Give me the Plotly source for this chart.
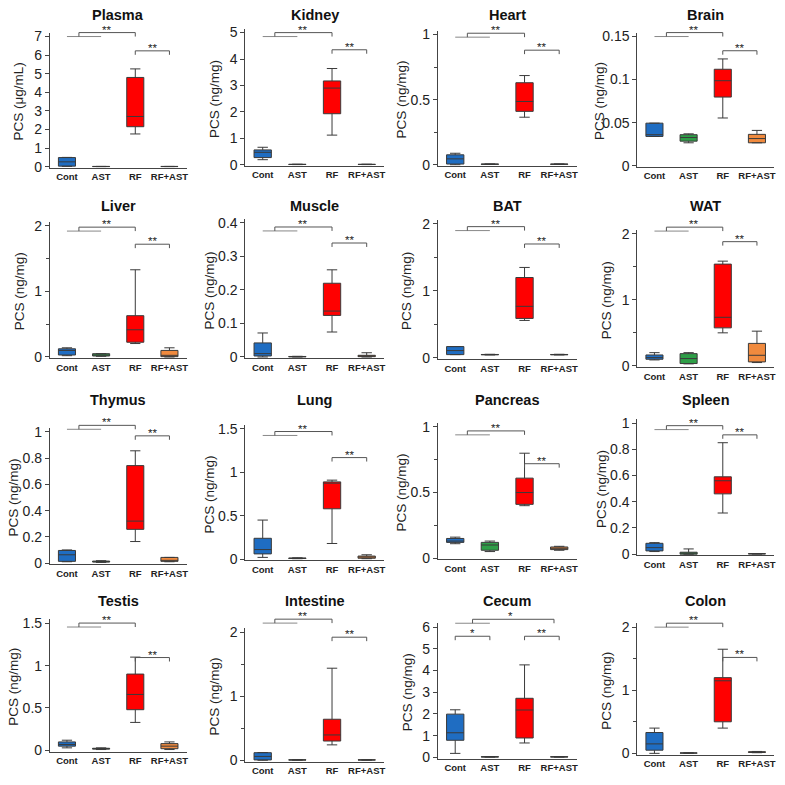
import plotly.graph_objects as go

groups = ["Cont", "AST", "RF", "RF+AST"]
organs = ["Plasma", "Kidney", "Heart", "Brain", "Liver", "Muscle", "BAT", "WAT",
          "Thymus", "Lung", "Pancreas", "Spleen", "Testis", "Intestine", "Cecum", "Colon"]
y_titles = ["PCS (μg/mL)"] + ["PCS (ng/mg)"] * 15
y_max = [7, 5, 1, 0.15, 2, 0.4, 2, 2, 1, 1.5, 1, 1, 1.5, 2, 6, 2]
y_dtick = [1, 1, 0.5, 0.05, 1, 0.1, 1, 1, 0.2, 0.5, 0.5, 0.2, 0.5, 1, 1, 1]
y_minor = [False, False, True, False, True, False, True, True,
           False, False, True, False, False, True, False, True]

# box statistics per organ: [Cont, AST, RF, RF+AST]
lower = [
    [0.02, 0.005, 1.76, 0.005], [0.19, 0.005, 1.12, 0.005], [0.0, 0.002, 0.365, 0.002],
    [0.034, 0.0266, 0.0554, 0.0266], [0.02, 0.01, 0.205, 0.0], [0.0, 0.0, 0.0745, 0.0],
    [0.05, 0.045, 0.56, 0.045], [0.09, 0.03, 0.5, 0.05], [0.01, 0.005, 0.164, 0.01],
    [0.02, 0.005, 0.18, 0.005], [0.11, 0.05, 0.4, 0.06], [0.02, 0.0, 0.314, 0.001],
    [0.03, 0.01, 0.33, 0.01], [0.0, 0.003, 0.24, 0.003], [0.18, 0.01, 0.66, 0.01],
    [0.0, 0.003, 0.4, 0.01]]
q1 = [
    [0.03, 0.005, 2.15, 0.005], [0.27, 0.008, 1.93, 0.008], [0.005, 0.003, 0.41, 0.003],
    [0.034, 0.0285, 0.0797, 0.0266], [0.03, 0.015, 0.225, 0.005], [0.003, 0.0005, 0.124, 0.001],
    [0.05, 0.048, 0.59, 0.048], [0.1, 0.035, 0.575, 0.06], [0.013, 0.008, 0.257, 0.013],
    [0.06, 0.007, 0.58, 0.01], [0.12, 0.06, 0.41, 0.065], [0.025, 0.0, 0.46, 0.002],
    [0.05, 0.015, 0.48, 0.02], [0.005, 0.004, 0.3, 0.004], [0.785, 0.015, 0.89, 0.015],
    [0.05, 0.004, 0.5, 0.015]]
median = [
    [0.26, 0.01, 2.7, 0.01], [0.47, 0.01, 2.9, 0.01], [0.045, 0.004, 0.486, 0.004],
    [0.036, 0.0327, 0.0987, 0.0315], [0.1, 0.03, 0.415, 0.025], [0.01, 0.001, 0.137, 0.003],
    [0.11, 0.05, 0.77, 0.05], [0.125, 0.11, 0.735, 0.16], [0.063, 0.01, 0.32, 0.02],
    [0.11, 0.01, 0.875, 0.025], [0.13, 0.1, 0.5, 0.075], [0.05, 0.008, 0.56, 0.003],
    [0.07, 0.02, 0.66, 0.05], [0.06, 0.005, 0.395, 0.005], [1.13, 0.02, 2.18, 0.02],
    [0.15, 0.005, 1.15, 0.02]]
q3 = [
    [0.49, 0.015, 4.8, 0.015], [0.56, 0.015, 3.17, 0.015], [0.076, 0.005, 0.63, 0.005],
    [0.0494, 0.036, 0.112, 0.0364], [0.125, 0.05, 0.63, 0.1], [0.042, 0.0015, 0.22, 0.005],
    [0.17, 0.052, 1.2, 0.052], [0.165, 0.185, 1.54, 0.34], [0.096, 0.015, 0.743, 0.043],
    [0.24, 0.012, 0.89, 0.035], [0.15, 0.12, 0.61, 0.085], [0.083, 0.015, 0.59, 0.004],
    [0.1, 0.025, 0.9, 0.08], [0.118, 0.006, 0.64, 0.006], [1.99, 0.025, 2.72, 0.025],
    [0.33, 0.006, 1.2, 0.025]]
upper = [
    [0.5, 0.015, 5.26, 0.015], [0.66, 0.02, 3.64, 0.02], [0.088, 0.006, 0.685, 0.006],
    [0.0494, 0.037, 0.124, 0.041], [0.14, 0.05, 1.33, 0.14], [0.0716, 0.002, 0.26, 0.0127],
    [0.17, 0.055, 1.35, 0.055], [0.2, 0.2, 1.585, 0.525], [0.1, 0.018, 0.856, 0.043],
    [0.45, 0.015, 0.91, 0.05], [0.16, 0.13, 0.8, 0.09], [0.088, 0.04, 0.85, 0.005],
    [0.12, 0.03, 1.1, 0.1], [0.12, 0.007, 1.436, 0.007], [2.19, 0.03, 4.26, 0.03],
    [0.4, 0.007, 1.65, 0.03]]

# ---------------- layout / style ----------------
W = H = 785
fills = ["#1f6dc2", "#2e9e47", "#ff0000", "#f08a3e"]
edge = "#3a3a3a"
col_x = [(50, 187), (246, 385), (439, 578), (639, 776)]
zero_top = [(165, 33), (163, 29), (163, 31), (164, 33),
            (358, 225), (358, 222), (359, 223), (367, 233),
            (567, 434), (563, 431), (562, 429), (558, 425),
            (757, 628), (767, 637), (764, 632), (760, 632)]
title_y = [11, 205, 402, 605]
# significance bracket levels (fraction of top tick)
b1 = [1.0, 0.97, 0.98, 1.0, 0.96, 0.94, 0.95, 1.02, 1.02, 0.95, 0.94, 0.95, 0.97, 1.07, 1.03, 1.0]
b2 = [0.89, 0.87, 0.88, 0.89, 0.86, 0.85, 0.85, 0.94, 0.97, 0.78, 0.72, 0.91, 0.73, 0.96, 0.93, 0.76]


def fx(p):
    return p / W


def fy(p):
    return 1 - p / H


fig = go.Figure()
shapes, annos = [], []


def px_x(i, c):
    x0, x1 = col_x[i % 4]
    return fx(x0 + (c + 0.5) / 4 * (x1 - x0))


def px_y(i, frac, up=0):
    z, t = zero_top[i]
    return fy(z - frac * (z - t) - up)


def line(x0, y0, x1, y1, color="#555"):
    shapes.append(dict(type="line", xref="paper", yref="paper", x0=x0, y0=y0, x1=x1, y1=y1,
                       line=dict(color=color, width=1)))


def stars(x, y, txt):
    annos.append(dict(x=x, y=y, xref="paper", yref="paper", text=txt, showarrow=False,
                      xanchor="center", yanchor="bottom", yshift=-5,
                      font=dict(size=11.5, color="#222", family="Liberation Sans")))


for i, organ in enumerate(organs):
    n = i + 1
    xa, ya = f"x{n}", f"y{n}"
    for g in range(4):
        fig.add_trace(go.Box(
            x=[groups[g]], q1=[q1[i][g]], median=[median[i][g]], q3=[q3[i][g]],
            lowerfence=[lower[i][g]], upperfence=[upper[i][g]],
            fillcolor=fills[g], line=dict(color=edge, width=1), width=0.5,
            whiskerwidth=0.6, boxpoints=False, showlegend=False,
            xaxis=xa, yaxis=ya))
    x0, x1 = col_x[i % 4]
    z, t = zero_top[i]
    h = z - t
    top = y_max[i]
    ydom = [fy(z + 0.01 * h), fy(t - 0.03 * h)]
    fig.layout[f"xaxis{n}"] = dict(
        domain=[fx(x0), fx(x1)], anchor=ya, type="category",
        categoryorder="array", categoryarray=groups, range=[-0.5, 3.5],
        showline=True, linecolor="#444", linewidth=1, showgrid=False, zeroline=False,
        ticks="", ticklen=0, ticklabeloverflow="allow",
        tickfont=dict(size=9.5, family="Liberation Sans", weight="bold", color="#222"))
    yax = dict(
        domain=ydom, anchor=xa, range=[-0.01 * top, 1.03 * top],
        tick0=0, dtick=y_dtick[i], showline=True, linecolor="#444", linewidth=1,
        showgrid=False, zeroline=False, ticks="outside", ticklen=4, tickcolor="#444",
        tickfont=dict(size=14, family="Liberation Sans", color="#222"))
    if y_minor[i]:
        yax["minor"] = dict(dtick=y_dtick[i] / 2, tick0=0, ticks="outside", ticklen=3,
                            tickcolor="#444", showgrid=False)
    fig.layout[f"yaxis{n}"] = yax

    # panel title
    annos.append(dict(x=fx((x0 + x1) / 2), y=fy(title_y[i // 4]), xref="paper", yref="paper",
                      text=f"<b>{organ}</b>", showarrow=False, xanchor="center", yanchor="middle",
                      font=dict(size=14.5, family="Liberation Sans", color="#111")))
    # y-axis title
    maxlab = max(len(f"{v:g}") for v in [top, y_dtick[i]])
    off = 31 + 2.5 * (maxlab - 1)
    annos.append(dict(x=fx(x0 - off), y=fy((z + t) / 2), xref="paper", yref="paper",
                      text=y_titles[i], showarrow=False, textangle=-90,
                      xanchor="center", yanchor="middle",
                      font=dict(size=13.5, family="Liberation Sans", color="#222")))

    # significance brackets
    if organ == "Cecum":
        yb = px_y(i, b1[i])
        yu = px_y(i, b1[i], 4)
        line(px_x(i, 0), yb, px_x(i, 1), yb, "#888")
        line(px_x(i, 0.5), yb, px_x(i, 0.5), yu)
        line(px_x(i, 0.5), yu, px_x(i, 2.85), yu)
        line(px_x(i, 2.85), yu, px_x(i, 2.85), yb)
        stars(px_x(i, 1.6), yu, "*")
        for (ca, cb, txt) in [(0, 1, "*"), (2, 3, "**")]:
            y2 = px_y(i, b2[i])
            y2d = px_y(i, b2[i], -4)
            line(px_x(i, ca), y2d, px_x(i, ca), y2)
            line(px_x(i, ca), y2, px_x(i, cb), y2)
            line(px_x(i, cb), y2, px_x(i, cb), y2d)
            stars(px_x(i, (ca + cb) / 2), y2, txt)
    else:
        yb = px_y(i, b1[i])
        yu = px_y(i, b1[i], 4)
        line(px_x(i, 0), yb, px_x(i, 1), yb, "#888")
        line(px_x(i, 0.35), yb, px_x(i, 0.35), yu)
        line(px_x(i, 0.35), yu, px_x(i, 2), yu)
        line(px_x(i, 2), yu, px_x(i, 2), yb)
        stars(px_x(i, 1.15), yu, "**")
        y2 = px_y(i, b2[i])
        y2d = px_y(i, b2[i], -4)
        line(px_x(i, 2), y2d, px_x(i, 2), y2)
        line(px_x(i, 2), y2, px_x(i, 3), y2)
        line(px_x(i, 3), y2, px_x(i, 3), y2d)
        stars(px_x(i, 2.5), y2, "**")

fig.update_layout(
    width=W, height=H, margin=dict(l=0, r=0, t=0, b=0),
    paper_bgcolor="white", plot_bgcolor="white", boxmode="overlay",
    shapes=shapes, annotations=annos, showlegend=False, hovermode=False,
    font=dict(family="Liberation Sans"))

# remove the browser's default 8px body margin so the figure fills the window exactly
fig.write_html("out.html", config={"displayModeBar": False, "staticPlot": True},
               post_script="document.body.style.margin='0';document.body.style.overflow='hidden';")
